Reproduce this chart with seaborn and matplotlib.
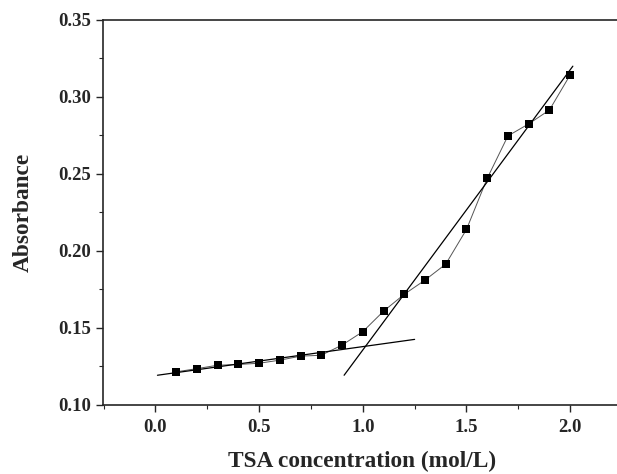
import matplotlib
matplotlib.use("Agg")
import matplotlib.pyplot as plt
import seaborn as sns
from matplotlib.ticker import MultipleLocator

# Data
conc = [0.1, 0.2, 0.3, 0.4, 0.5, 0.6, 0.7, 0.8, 0.9, 1.0,
        1.1, 1.2, 1.3, 1.4, 1.5, 1.6, 1.7, 1.8, 1.9, 2.0]
absorbance = [0.1214, 0.1235, 0.1257, 0.1262, 0.1270, 0.1290, 0.1316, 0.1322, 0.1388, 0.1475,
              0.1608, 0.1718, 0.1810, 0.1914, 0.2139, 0.2471, 0.2747, 0.2825, 0.2915, 0.3143]
fit_low_x = [0.01, 1.25]
fit_low_y = [0.1192, 0.1425]
fit_high_x = [0.91, 2.013]
fit_high_y = [0.1192, 0.3200]
xticks = [0.0, 0.5, 1.0, 1.5, 2.0]
yticks = [0.10, 0.15, 0.20, 0.25, 0.30, 0.35]

sns.set_style("ticks")
plt.rcParams['font.family'] = ['Liberation Serif', 'DejaVu Serif']
plt.rcParams['font.weight'] = 'bold'

fig = plt.figure(figsize=(6.17, 4.74), dpi=100)
left_px, right_px, top_px, bottom_px = 102.5, 622.0, 20.0, 404.8
ax = fig.add_axes([left_px / 617, 1 - bottom_px / 474,
                   (right_px - left_px) / 617, (bottom_px - top_px) / 474])

sns.lineplot(x=conc, y=absorbance, ax=ax, color="#555555", linewidth=0.7)
sns.scatterplot(x=conc, y=absorbance, ax=ax, marker='s', color='black', s=38,
                edgecolor='black', linewidth=0, zorder=3)
sns.lineplot(x=fit_low_x, y=fit_low_y, ax=ax, color='black', linewidth=0.9)
sns.lineplot(x=fit_high_x, y=fit_high_y, ax=ax, color='black', linewidth=0.9)

ax.set_xlim(-0.255, 2.25)
ax.set_ylim(0.10, 0.35)
ax.set_xticks(xticks)
ax.set_xticklabels([f"{v:.1f}" for v in xticks])
ax.set_yticks(yticks)
ax.set_yticklabels([f"{v:.2f}" for v in yticks])
ax.xaxis.set_minor_locator(MultipleLocator(0.25))
ax.yaxis.set_minor_locator(MultipleLocator(0.025))
ax.tick_params(which='major', direction='out', length=5, width=1.0, labelsize=13.5)
ax.tick_params(axis='y', which='major', pad=3.5)
ax.tick_params(axis='x', which='major', pad=5)
ax.tick_params(which='minor', direction='out', length=3, width=0.8)
for sp in ax.spines.values():
    sp.set_visible(True)
    sp.set_linewidth(1.2)

ax.set_xlabel("TSA concentration (mol/L)", fontsize=16.8, fontweight='bold', labelpad=11)
ax.set_ylabel("Absorbance", fontsize=16.8, fontweight='bold', labelpad=17)

fig.savefig("out.png", dpi=100)
